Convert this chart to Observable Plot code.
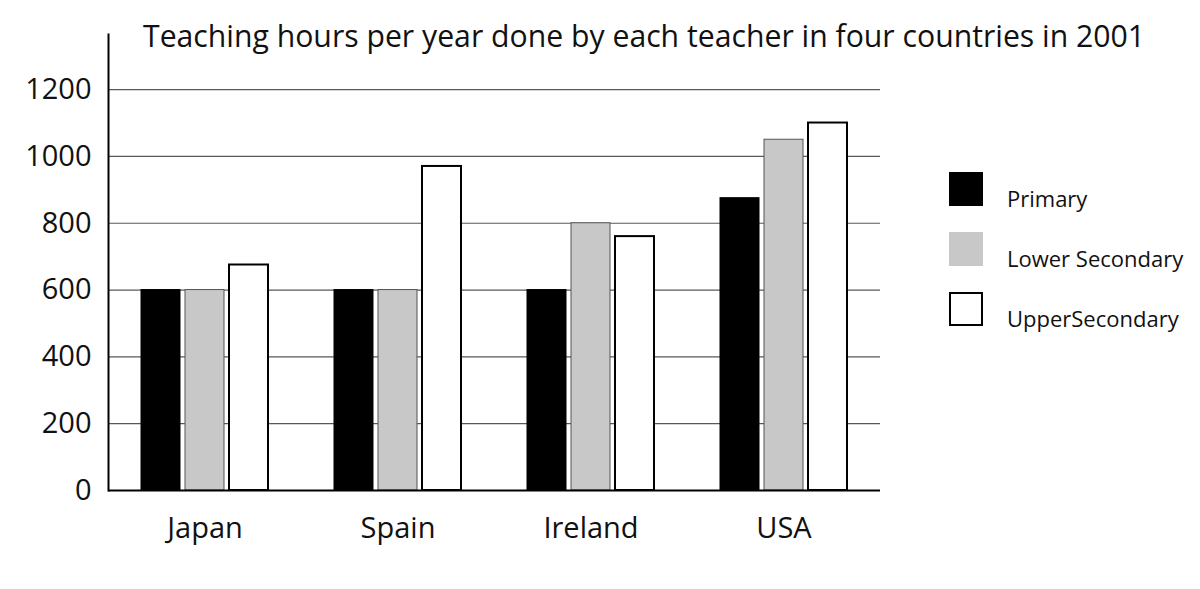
<!DOCTYPE html>
<html><head><meta charset="utf-8">
<script src="https://cdn.jsdelivr.net/npm/d3@7"></script>
<script src="https://cdn.jsdelivr.net/npm/@observablehq/plot@0.6"></script>
<style>
body{margin:0;background:#fff;font-family:"Open Sans",sans-serif;color:#111;}
#wrap{position:relative;width:1200px;height:589px;overflow:hidden;}
#chart{position:absolute;left:0;top:0;}
#title{position:absolute;left:143px;top:21px;font-size:30.2px;line-height:1;white-space:nowrap;}
#legend{position:absolute;left:949px;top:172px;}
.row{display:flex;align-items:flex-start;height:60px;}
.sw{width:34px;height:34px;box-sizing:border-box;}
.lab{margin-left:24px;margin-top:15px;font-size:22px;line-height:1;white-space:nowrap;}
</style></head><body>
<div id="wrap">
  <div id="chart"></div>
  <div id="title">Teaching hours per year done by each teacher in four countries in 2001</div>
  <div id="legend"></div>
</div>
<script>
const countries = ["Japan", "Spain", "Ireland", "USA"];
const levels = ["Primary", "Lower Secondary", "UpperSecondary"];
const primary = [600, 600, 600, 875];
const lowerSecondary = [600, 600, 800, 1050];
const upperSecondary = [675, 970, 760, 1100];
const yTicks = [0, 200, 400, 600, 800, 1000, 1200];

const series = [primary, lowerSecondary, upperSecondary];
const data = countries.flatMap((c, i) => levels.map((l, j) => ({country: c, level: l, value: series[j][i]})));

const styles = [
  {fill: "#000", stroke: "#000", strokeWidth: 1},
  {fill: "#c8c8c8", stroke: "#555", strokeWidth: 1},
  {fill: "#fff", stroke: "#000", strokeWidth: 2}
];

const legend = document.getElementById("legend");
levels.forEach((l, j) => {
  const row = document.createElement("div");
  row.className = "row";
  const sw = document.createElement("div");
  sw.className = "sw";
  sw.style.background = styles[j].fill;
  if (j === 2) sw.style.border = "2px solid #000";
  const lab = document.createElement("div");
  lab.className = "lab";
  lab.textContent = l;
  row.appendChild(sw); row.appendChild(lab);
  legend.appendChild(row);
});

const chart = Plot.plot({
  width: 1200, height: 589,
  marginLeft: 107, marginRight: 320, marginTop: 34, marginBottom: 99,
  style: {fontFamily: "Open Sans", color: "#111", background: "transparent"},
  fx: {domain: countries, padding: 0, label: null},
  x: {domain: levels, paddingInner: 0.114, paddingOuter: 0.75, axis: null},
  y: {domain: [0, 1365], axis: null},
  marks: [
    Plot.ruleY(yTicks.filter(d => d > 0), {stroke: "#585858", strokeWidth: 1.2}),
    ...levels.map((l, j) => Plot.barY(data.filter(d => d.level === l), {
      fx: "country", x: "level", y: "value", ...styles[j]
    })),
    Plot.ruleY([0], {stroke: "#000", strokeWidth: 2}),
    Plot.frame({anchor: "left", stroke: "#000", strokeWidth: 2, facet: "super"}),
    Plot.axisY({ticks: yTicks, tickFormat: d => String(d), tickSize: 0, tickPadding: 17, fontSize: 29, label: null}),
    Plot.axisFx({anchor: "bottom", tickSize: 0, tickPadding: 27, fontSize: 29, label: null})
  ]
});
document.getElementById("chart").appendChild(chart);
</script>
</body></html>
